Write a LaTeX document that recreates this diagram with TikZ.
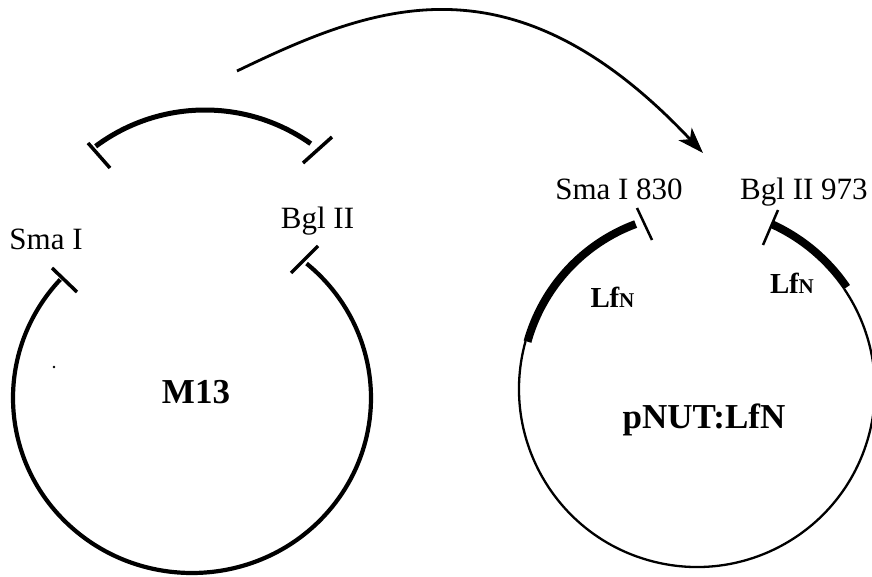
\documentclass[tikz,border=0pt]{standalone}
\usepackage{fontspec}
\setmainfont{Liberation Serif}
\usetikzlibrary{arrows.meta}
\newcommand\lfnlabel{L\kern-0.5pt f{\fontsize{21}{21}\selectfont N}}
\begin{document}
\begin{tikzpicture}[x=1pt,y=1pt,
  site/.style={font=\fontsize{31}{31}\selectfont, inner sep=0pt},
  gene/.style={font=\fontsize{29}{29}\selectfont\bfseries, inner sep=0pt, anchor=base},
  title/.style={font=\fontsize{35}{35}\selectfont\bfseries, inner sep=0pt, anchor=base},
  m13line/.style={line width=4.2pt},
  m13tick/.style={line width=3.5pt},
  bracketline/.style={line width=5pt},
  thinline/.style={line width=2.3pt},
  insert/.style={line width=8pt},
  ptick/.style={line width=2.5pt},
  arrowline/.style={line width=2.8pt, -{Stealth[length=26pt,width=18pt,inset=7pt]}}]
\useasboundingbox (0,0) rectangle (872,-577);
\fill[white] (0,0) rectangle (872,-577);

% ---------- M13 ----------
\coordinate (mc) at (192,-398);
\draw[m13line] ([shift={(137.4:179 and 175)}]mc)
  arc[start angle=137.4, end angle=410.2, x radius=179, y radius=175];
\draw[m13tick] (52,-268) -- (77,-292);
\draw[m13tick] (318,-246) -- (291,-273);
\fill (54,-367) circle[radius=1.3];
\node[site, anchor=base] (smaI) at (46,-250) {Sma I};
\node[site, anchor=base] (bglII) at (317.5,-229) {Bgl II};
\node[title] (m13) at (196,-403) {M13};

% ---------- excised fragment ----------
\coordinate (bc) at (205,-293);
\draw[bracketline] ([shift={(126.7:183)}]bc) arc[start angle=126.7, end angle=54.7, radius=183];
\draw[m13tick] (88,-143) -- (110,-168);
\draw[m13tick] (332,-137) -- (303,-163);

% ---------- transfer arrow ----------
\coordinate (arrS) at (237,-71);
\coordinate (arrE) at (703,-153);
\draw[arrowline] (arrS) .. controls (372,-6) and (511,51) .. (arrE);

% ---------- pNUT:LfN ----------
\coordinate (pc) at (697,-389);
\draw[thinline] ([shift={(164.4:178)}]pc) arc[start angle=164.4, end angle=394.2, radius=178];
\draw[insert] ([shift={(164.4:176)}]pc) arc[start angle=164.4, end angle=110.4, radius=176];
\draw[insert] ([shift={(65.7:181)}]pc) arc[start angle=65.7, end angle=34.2, radius=181];
\draw[ptick] (637,-208) -- (652,-240);
\draw[ptick] (778,-210) -- (763,-245);
\node[site, anchor=base] (smaI830) at (619,-200) {Sma I 830};
\node[site, anchor=base west] (bglII973) at (740,-200) {Bgl II 973};
\node[gene] (lfnL) at (612.5,-307) {\lfnlabel};
\node[gene] (lfnR) at (792,-293) {\lfnlabel};
\node[title] (pnut) at (704,-428) {pNUT:LfN};
\end{tikzpicture}
\end{document}
